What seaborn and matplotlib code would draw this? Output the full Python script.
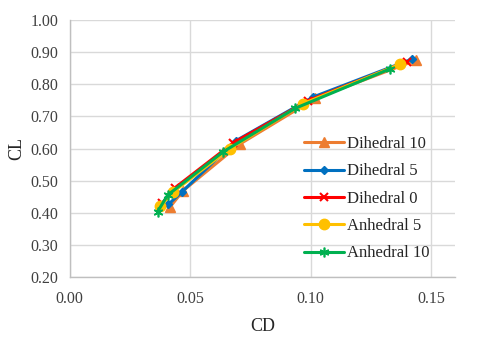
import numpy as np
import pandas as pd
import seaborn as sns
from matplotlib import pyplot as plt

## DADOS

series = ['Dihedral 10', 'Dihedral 5', 'Dihedral 0', 'Anhedral 5', 'Anhedral 10']

cd_dih10 = [0.0417, 0.0470, 0.0707, 0.1020, 0.1438]
cl_dih10 = [0.418, 0.468, 0.614, 0.756, 0.875]

cd_dih5 = [0.0410, 0.0466, 0.0690, 0.1010, 0.1420]
cl_dih5 = [0.426, 0.465, 0.624, 0.760, 0.878]

cd_dih0 = [0.0385, 0.0438, 0.0680, 0.0990, 0.1400]
cl_dih0 = [0.430, 0.478, 0.618, 0.749, 0.870]

cd_anh5 = [0.0376, 0.0430, 0.0666, 0.0970, 0.1370]
cl_anh5 = [0.420, 0.465, 0.600, 0.740, 0.862]

cd_anh10 = [0.0365, 0.0407, 0.0638, 0.0936, 0.1330]
cl_anh10 = [0.403, 0.455, 0.590, 0.725, 0.848]

cores = ['#ED7D31', '#0070C0', '#FF0000', '#FFC000', '#00B050']
marcadores = ['^', 'D', 'x', 'o', (6, 2, 0)]
tamanhos = [6.5, 4.5, 6, 7.5, 7]
bordas = [1, 1, 1.5, 1, 1.2]

df = pd.concat([
    pd.DataFrame({'CD': cd_dih10, 'CL': cl_dih10, 'Serie': series[0]}),
    pd.DataFrame({'CD': cd_dih5, 'CL': cl_dih5, 'Serie': series[1]}),
    pd.DataFrame({'CD': cd_dih0, 'CL': cl_dih0, 'Serie': series[2]}),
    pd.DataFrame({'CD': cd_anh5, 'CL': cl_anh5, 'Serie': series[3]}),
    pd.DataFrame({'CD': cd_anh10, 'CL': cl_anh10, 'Serie': series[4]}),
])

## GRAFICO

sns.set_theme(style='white')
plt.rcParams['font.family'] = ['Liberation Serif', 'DejaVu Serif']

fig = plt.figure(figsize=(4.8, 3.42), dpi=100)
ax = fig.add_axes([0.145, 0.19, 0.803, 0.7515])

for i, s in enumerate(series):
    d = df[df.Serie == s]
    sns.lineplot(data=d, x='CD', y='CL', ax=ax, sort=False, color=cores[i],
                 marker=marcadores[i], markersize=tamanhos[i], linewidth=2.2,
                 markeredgecolor=cores[i], markeredgewidth=bordas[i], label=s)

ax.set_xlim(0, 0.16)
ax.set_ylim(0.2, 1.0)
ax.set_xticks([0.0, 0.05, 0.10, 0.15])
ax.set_yticks(np.arange(0.2, 1.01, 0.1))
ax.xaxis.set_major_formatter(plt.FormatStrFormatter('%.2f'))
ax.yaxis.set_major_formatter(plt.FormatStrFormatter('%.2f'))
ax.grid(True, color='#D9D9D9', linewidth=1)
ax.set_axisbelow(True)
for lado in ['top', 'right']:
    ax.spines[lado].set_visible(False)
for lado in ['left', 'bottom']:
    ax.spines[lado].set_color('#BFBFBF')
    ax.spines[lado].set_linewidth(1)
ax.tick_params(axis='y', length=0, labelsize=11.5, colors='#404040', pad=8)
ax.tick_params(axis='x', length=0, labelsize=11.5, colors='#404040', pad=10)
ax.set_xlabel('CD', fontsize=13, color='#262626', labelpad=8)
ax.set_ylabel('CL', fontsize=13, color='#262626', labelpad=4)

leg = ax.legend(loc='lower right', bbox_to_anchor=(0.965, 0.015), frameon=False,
                fontsize=12, handlelength=2.4, labelspacing=0.68,
                handletextpad=0.2, borderaxespad=0.3)
for t in leg.get_texts():
    t.set_color('#262626')

plt.savefig('out.png', dpi=100)
